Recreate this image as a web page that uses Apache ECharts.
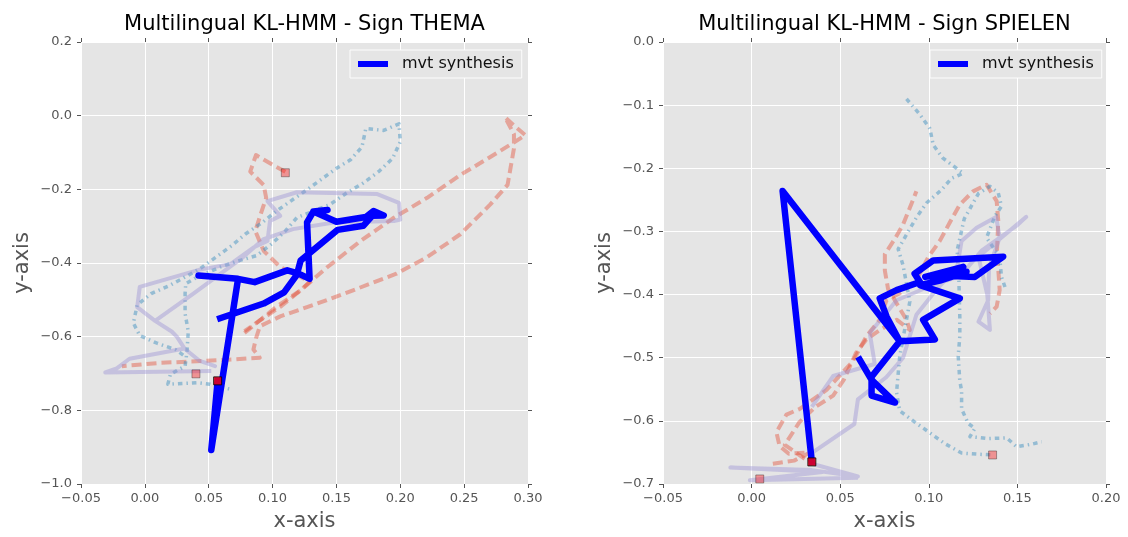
<!DOCTYPE html>
<html>
<head>
<meta charset="utf-8"/>
<title>Multilingual KL-HMM</title>
<script src="https://cdn.jsdelivr.net/npm/echarts/dist/echarts.min.js"></script>
<style>
    html, body { margin: 0; padding: 0; background: #fff; }
    #main { width: 1128px; height: 537px; }
</style>
</head>
<body>
<div id="main"></div>
<script>
// ---- Sign THEMA (left panel) ----
var themaTicksX = [-0.05, 0.30, 0.05];   // min, max, step
var themaTicksY = [-1.0, 0.2, 0.2];

var themaDash1 = [[0.110,-0.152],[0.1025,-0.138],[0.087,-0.107],[0.0825,-0.152],[0.093,-0.188],[0.095,-0.223],[0.0915,-0.259],[0.0865,-0.313],[0.093,-0.367],[0.106,-0.411],[0.122,-0.438],[0.129,-0.451],[0.122,-0.474],[0.106,-0.519],[0.090,-0.556],[0.078,-0.585]];
var themaDash2 = [[0.078,-0.590],[0.103,-0.519],[0.122,-0.474],[0.143,-0.411],[0.169,-0.340],[0.195,-0.277],[0.221,-0.223],[0.247,-0.161],[0.273,-0.107],[0.298,-0.053],[0.289,-0.027],[0.282,-0.004],[0.289,-0.050],[0.289,-0.089],[0.284,-0.188],[0.2705,-0.241],[0.247,-0.322],[0.221,-0.384],[0.197,-0.429],[0.163,-0.474],[0.132,-0.514],[0.106,-0.545],[0.090,-0.572],[0.087,-0.605],[0.085,-0.635],[0.090,-0.657],[0.069,-0.662],[0.046,-0.666],[0.012,-0.671],[-0.018,-0.680]];
var themaDots = [[0.030,-0.650],[0.024,-0.635],[0.009,-0.617],[-0.004,-0.597],[-0.009,-0.563],[-0.006,-0.514],[0.005,-0.483],[0.020,-0.460],[0.043,-0.416],[0.068,-0.353],[0.0785,-0.322],[0.092,-0.290],[0.103,-0.259],[0.127,-0.201],[0.150,-0.143],[0.161,-0.120],[0.170,-0.085],[0.173,-0.035],[0.187,-0.040],[0.199,-0.022],[0.200,-0.071],[0.194,-0.116],[0.183,-0.152],[0.171,-0.183],[0.158,-0.210],[0.145,-0.241],[0.119,-0.277],[0.110,-0.313],[0.099,-0.349],[0.0875,-0.380],[0.0745,-0.393],[0.059,-0.411],[0.040,-0.440],[0.032,-0.456],[0.0315,-0.483],[0.0315,-0.537],[0.034,-0.586],[0.033,-0.640],[0.0315,-0.680],[0.020,-0.702],[0.018,-0.729],[0.041,-0.725],[0.051,-0.729],[0.066,-0.742]];
var themaSolid = [[0.052,-0.693],[-0.031,-0.697],[-0.022,-0.686],[-0.012,-0.660],[0.031,-0.632],[0.043,-0.666],[0.055,-0.680],[0.043,-0.666],[0.031,-0.632],[0.025,-0.600],[0.021,-0.586],[0.008,-0.557],[-0.006,-0.520],[-0.004,-0.465],[0.043,-0.418],[0.067,-0.403],[0.085,-0.358],[0.096,-0.340],[0.098,-0.286],[0.106,-0.272],[0.096,-0.232],[0.119,-0.208],[0.182,-0.213],[0.199,-0.237],[0.200,-0.282],[0.195,-0.286],[0.148,-0.290],[0.116,-0.308],[0.093,-0.335],[0.077,-0.384],[0.038,-0.483],[0.008,-0.557]];
var themaSynth = [[0.057,-0.720],[0.052,-0.908],[0.073,-0.443],[0.042,-0.434],[0.073,-0.443],[0.086,-0.452],[0.1115,-0.420],[0.120,-0.428],[0.129,-0.443],[0.127,-0.290],[0.132,-0.260],[0.143,-0.256],[0.132,-0.260],[0.150,-0.288],[0.173,-0.275],[0.179,-0.259],[0.187,-0.271],[0.178,-0.272],[0.171,-0.299],[0.151,-0.310],[0.122,-0.393],[0.119,-0.432],[0.109,-0.480],[0.093,-0.510],[0.059,-0.550]];
var themaRefStarts = [[0.110,-0.155],[0.040,-0.701]];
var themaSynthStart = [[0.057,-0.720]];

// ---- Sign SPIELEN (right panel) ----
var spielenTicksX = [-0.05, 0.20, 0.05];
var spielenTicksY = [-0.7, 0.0, 0.1];

var spielenDash1 = [[0.012,-0.668],[0.024,-0.663],[0.033,-0.650],[0.021,-0.652],[0.0158,-0.640],[0.014,-0.618],[0.0197,-0.590],[0.0272,-0.581],[0.0423,-0.551],[0.0573,-0.505],[0.0648,-0.466],[0.0723,-0.440],[0.0761,-0.409],[0.0836,-0.398],[0.093,-0.377],[0.0996,-0.341],[0.1062,-0.315],[0.112,-0.285],[0.1175,-0.2575],[0.125,-0.2365],[0.1326,-0.226],[0.1383,-0.252],[0.1392,-0.283],[0.1385,-0.330],[0.140,-0.393],[0.1383,-0.419],[0.1345,-0.430]];
var spielenDash2 = [[0.030,-0.660],[0.0187,-0.638],[0.027,-0.602],[0.036,-0.578],[0.046,-0.560],[0.052,-0.535],[0.059,-0.492],[0.0648,-0.471],[0.073,-0.455],[0.082,-0.440],[0.0893,-0.456],[0.0874,-0.440],[0.0808,-0.409],[0.077,-0.391],[0.0752,-0.362],[0.0752,-0.336],[0.0808,-0.312],[0.0855,-0.289],[0.0893,-0.2626],[0.093,-0.2365]];
var spielenDots1 = [[0.0874,-0.090],[0.095,-0.115],[0.1006,-0.137],[0.1025,-0.163],[0.108,-0.184],[0.1194,-0.208],[0.1128,-0.216],[0.1072,-0.234],[0.0987,-0.255],[0.093,-0.278],[0.0827,-0.328],[0.0855,-0.354],[0.0893,-0.411],[0.0874,-0.440],[0.0836,-0.4975],[0.0818,-0.555],[0.0836,-0.584],[0.0921,-0.602],[0.1006,-0.619],[0.109,-0.636],[0.1185,-0.651],[0.1288,-0.653],[0.136,-0.654]];
var spielenDots2 = [[0.143,-0.388],[0.141,-0.372],[0.140,-0.340],[0.1326,-0.310],[0.1373,-0.276],[0.141,-0.260],[0.1392,-0.239],[0.1345,-0.2286],[0.128,-0.240],[0.120,-0.280],[0.116,-0.330],[0.117,-0.380],[0.1175,-0.435],[0.1175,-0.466],[0.1166,-0.4975],[0.1175,-0.537],[0.1185,-0.552],[0.1185,-0.581],[0.1222,-0.604],[0.126,-0.612],[0.1232,-0.625],[0.1335,-0.628],[0.144,-0.627],[0.1495,-0.641],[0.158,-0.637],[0.1637,-0.633]];
var spielenSolid = [[0.060,-0.690],[-0.001,-0.694],[0.040,-0.681],[-0.012,-0.674],[0.034,-0.678],[0.060,-0.688],[0.034,-0.668],[0.0345,-0.650],[0.058,-0.605],[0.060,-0.566],[0.076,-0.531],[0.0855,-0.500],[0.093,-0.432],[0.104,-0.393],[0.116,-0.357],[0.1185,-0.315],[0.127,-0.294],[0.138,-0.277],[0.140,-0.310],[0.134,-0.357],[0.1335,-0.409],[0.128,-0.443],[0.1345,-0.456],[0.133,-0.400],[0.128,-0.340],[0.155,-0.277],[0.150,-0.290],[0.130,-0.330],[0.118,-0.370],[0.0996,-0.388],[0.0818,-0.409],[0.0667,-0.461],[0.0695,-0.510],[0.046,-0.529],[0.034,-0.578]];
var spielenSynth = [[0.034,-0.665],[0.0175,-0.236],[0.0836,-0.474],[0.0762,-0.435],[0.0723,-0.406],[0.0818,-0.393],[0.095,-0.380],[0.092,-0.367],[0.1025,-0.346],[0.142,-0.340],[0.126,-0.372],[0.110,-0.370],[0.1194,-0.356],[0.098,-0.372],[0.1213,-0.364],[0.1062,-0.378],[0.095,-0.385],[0.1175,-0.406],[0.0968,-0.440],[0.1034,-0.471],[0.0836,-0.474],[0.0677,-0.530],[0.0677,-0.560],[0.081,-0.571],[0.0677,-0.535],[0.061,-0.503]];
var spielenRefStarts = [[0.0046,-0.692],[0.136,-0.654]];
var spielenSynthStart = [[0.034,-0.665]];

var titles = ['Multilingual KL-HMM - Sign THEMA', 'Multilingual KL-HMM - Sign SPIELEN'];
var synthName = 'mvt synthesis';

var FONT = 'DejaVu Sans';
var RED = 'rgba(226,74,51,0.42)';
var DOT = 'rgba(52,138,189,0.45)';
var LAV = 'rgba(152,142,213,0.42)';

function fmt(d) {
    return function (v) {
        var s = (Math.round(v * 100) / 100).toFixed(d);
        return s.replace('-', '\u2212');
    };
}

var tickStyle = { show: true, inside: false, length: 4, lineStyle: { color: '#555' } };

function mainX(idx, t) {
    return {
        type: 'value', gridIndex: idx, min: t[0], max: t[1], interval: t[2], position: 'bottom',
        name: 'x-axis', nameLocation: 'middle', nameGap: 27,
        nameTextStyle: { fontFamily: FONT, fontSize: 21, color: '#555' },
        axisLine: { show: false, onZero: false },
        axisTick: tickStyle,
        axisLabel: { formatter: fmt(2), fontFamily: FONT, fontSize: 13, color: '#555', margin: 8 },
        splitLine: { show: true, lineStyle: { color: '#fff', width: 1 } }
    };
}
function mainY(idx, t) {
    return {
        type: 'value', gridIndex: idx, min: t[0], max: t[1], interval: t[2], position: 'left',
        name: 'y-axis', nameLocation: 'middle', nameGap: 48, nameRotate: 90,
        nameTextStyle: { fontFamily: FONT, fontSize: 21, color: '#555' },
        axisLine: { show: false, onZero: false },
        axisTick: tickStyle,
        axisLabel: { formatter: fmt(1), fontFamily: FONT, fontSize: 13, color: '#555', margin: 9 },
        splitLine: { show: true, lineStyle: { color: '#fff', width: 1 } }
    };
}
// top / right copies, ticks only
function tickOnly(idx, t, pos) {
    return {
        type: 'value', gridIndex: idx, min: t[0], max: t[1], interval: t[2], position: pos,
        axisLine: { show: false, onZero: false },
        axisTick: tickStyle,
        axisLabel: { show: false },
        splitLine: { show: false }
    };
}

function lineSeries(data, xi, color, width, type) {
    return {
        type: 'line', xAxisIndex: xi, yAxisIndex: xi, data: data,
        showSymbol: false, symbol: 'none', silent: true, z: 2,
        lineStyle: { color: color, width: width, type: type, cap: 'butt', join: 'round' }
    };
}
function synthSeries(data, xi) {
    return {
        type: 'line', name: synthName, xAxisIndex: xi, yAxisIndex: xi, data: data,
        showSymbol: false, symbol: 'none', z: 5, color: '#0000ff',
        lineStyle: { color: '#0000ff', width: 6.5, cap: 'square', join: 'round' }
    };
}
function squares(data, xi, fill, border, z) {
    return {
        type: 'scatter', xAxisIndex: xi, yAxisIndex: xi, data: data, symbol: 'rect', symbolSize: 8, z: z,
        itemStyle: { color: fill, borderColor: border, borderWidth: 1 }
    };
}

var dashType = [10, 5];
var dotType = [4.5, 4, 1.5, 4];

function legendAt(x) {
    return {
        data: [synthName], left: x, top: 50, icon: 'rect', itemWidth: 30, itemHeight: 6,
        padding: [6, 8, 6, 8], backgroundColor: '#E5E5E5', borderColor: 'rgba(255,255,255,0.9)', borderWidth: 1,
        selectedMode: false,
        textStyle: { fontFamily: FONT, fontSize: 16, color: '#111', padding: [0, 0, 0, 9] }
    };
}

var chart = echarts.init(document.getElementById('main'), null, { renderer: 'canvas' });
chart.setOption({
    animation: false,
    backgroundColor: '#fff',
    title: [
        { text: titles[0], left: 304.5, top: 14, textAlign: 'center', padding: 0,
          textStyle: { fontFamily: FONT, fontSize: 21, fontWeight: 'normal', color: '#000' } },
        { text: titles[1], left: 884.5, top: 14, textAlign: 'center', padding: 0,
          textStyle: { fontFamily: FONT, fontSize: 21, fontWeight: 'normal', color: '#000' } }
    ],
    legend: [legendAt(350), legendAt(930)],
    grid: [
        { left: 81, top: 42, width: 447, height: 447, show: true, backgroundColor: '#E5E5E5', borderWidth: 0 },
        { left: 663, top: 42, width: 443, height: 447, show: true, backgroundColor: '#E5E5E5', borderWidth: 0 }
    ],
    xAxis: [mainX(0, themaTicksX), mainX(1, spielenTicksX),
            tickOnly(0, themaTicksX, 'top'), tickOnly(1, spielenTicksX, 'top')],
    yAxis: [mainY(0, themaTicksY), mainY(1, spielenTicksY),
            tickOnly(0, themaTicksY, 'right'), tickOnly(1, spielenTicksY, 'right')],
    series: [
        lineSeries(themaDash1, 0, RED, 4, dashType),
        lineSeries(themaDash2, 0, RED, 4, dashType),
        lineSeries(themaDots, 0, DOT, 3.5, dotType),
        lineSeries(themaSolid, 0, LAV, 4, 'solid'),
        squares(themaRefStarts, 0, 'rgba(255,0,0,0.45)', 'rgba(0,0,0,0.4)', 4),
        synthSeries(themaSynth, 0),
        squares(themaSynthStart, 0, '#ff0000', '#000', 6),

        lineSeries(spielenDash1, 1, RED, 4, dashType),
        lineSeries(spielenDash2, 1, RED, 4, dashType),
        lineSeries(spielenDots1, 1, DOT, 3.5, dotType),
        lineSeries(spielenDots2, 1, DOT, 3.5, dotType),
        lineSeries(spielenSolid, 1, LAV, 4, 'solid'),
        squares(spielenRefStarts, 1, 'rgba(255,0,0,0.45)', 'rgba(0,0,0,0.4)', 4),
        synthSeries(spielenSynth, 1),
        squares(spielenSynthStart, 1, '#ff0000', '#000', 6)
    ]
});

window.onresize = function () {
    chart.resize();
};
</script>
</body>
</html>
